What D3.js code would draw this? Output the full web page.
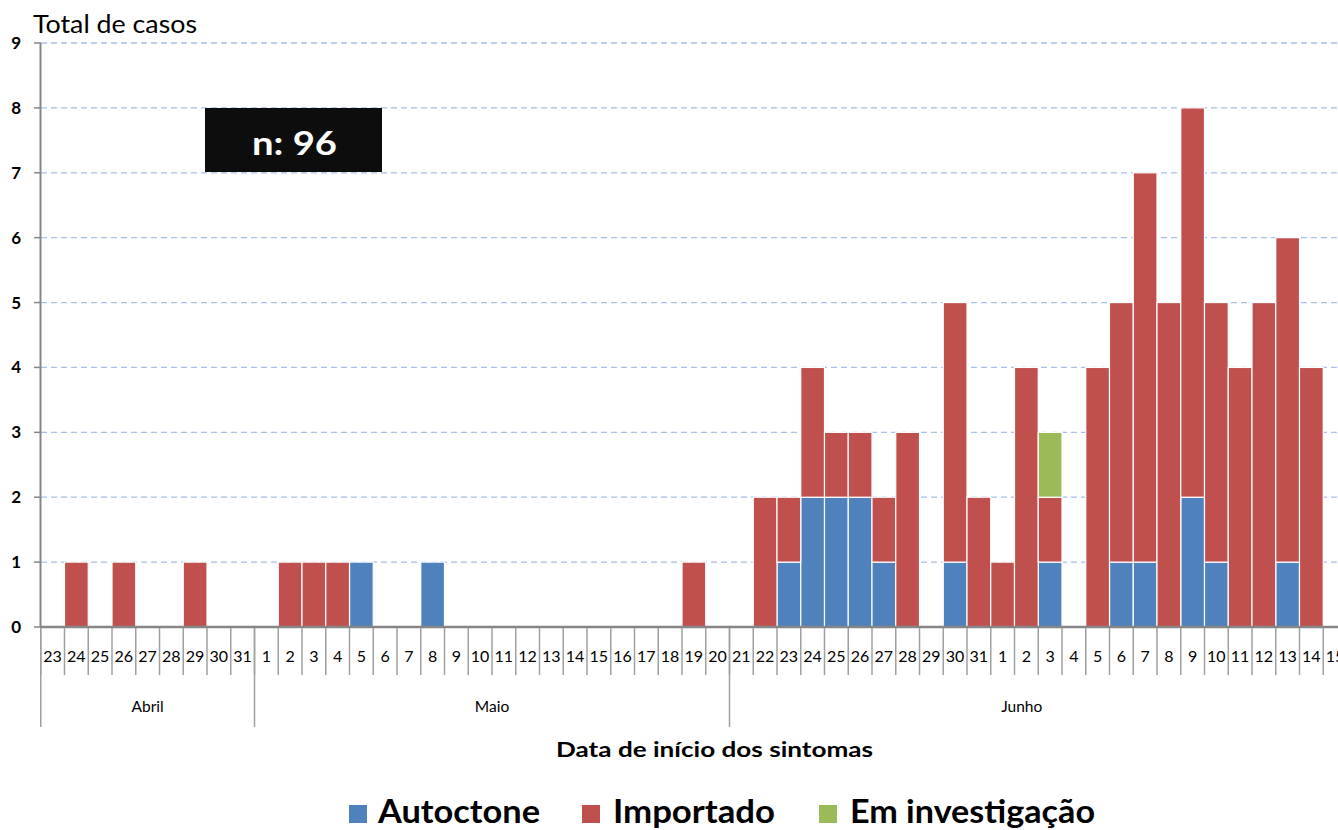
<!DOCTYPE html>
<html><head><meta charset="utf-8">
<script src="https://cdn.jsdelivr.net/npm/d3@7"></script>
<style>body{margin:0;background:#fff}svg{display:block}text{font-family:Lato,"Open Sans",sans-serif}</style>
</head><body><svg id="c" width="1338" height="830"></svg>
<script>
const dayLabels = ["23","24","25","26","27","28","29","30","31",
  "1","2","3","4","5","6","7","8","9","10","11","12","13","14","15","16","17","18","19","20",
  "21","22","23","24","25","26","27","28","29","30","31",
  "1","2","3","4","5","6","7","8","9","10","11","12","13","14","15"];
const groupNames = ["Abril","Maio","Junho"];
const groupSizes = [9,20,26];
const seriesNames = ["Autoctone","Importado","Em investigação"];
const seriesColors = ["#4f81bd","#c0504d","#9bbb59"];
const autoctone = [0,0,0,0,0,0,0,0,0,
  0,0,0,0,1,0,0,1,0,0,0,0,0,0,0,0,0,0,0,0,
  0,0,1,2,2,2,1,0,0,1,0,
  0,0,1,0,0,1,1,0,2,1,0,0,1,0,0];
const importado = [0,1,0,1,0,0,1,0,0,
  0,1,1,1,0,0,0,0,0,0,0,0,0,0,0,0,0,0,1,0,
  0,2,1,2,1,1,1,3,0,4,2,
  1,4,1,0,4,4,6,5,6,4,4,5,5,4,0];
const investigacao = [0,0,0,0,0,0,0,0,0,
  0,0,0,0,0,0,0,0,0,0,0,0,0,0,0,0,0,0,0,0,
  0,0,0,0,0,0,0,0,0,0,0,
  0,0,1,0,0,0,0,0,0,0,0,0,0,0,0];
const yTicks = [0,1,2,3,4,5,6,7,8,9];
const totalLabel = "n: 96";

const svg = d3.select("#c");
const x0 = 40.75, bw = 23.75;
const keys = dayLabels.map((d,i)=>i);
const x = d3.scaleBand().domain(keys).range([x0, x0 + bw*keys.length]).padding(0);
const y = d3.scaleLinear().domain([0,9]).range([627,43]);

// gridlines
svg.append("g").selectAll("line").data(yTicks.filter(t=>t>0)).join("line")
  .attr("x1",41).attr("x2",1338).attr("y1",d=>y(d)).attr("y2",d=>y(d))
  .attr("stroke","#a8bfe8").attr("stroke-width",1.3).attr("stroke-dasharray","6,4");

// stacked bars
const rows = keys.map(i=>({i, a:autoctone[i], b:importado[i], c:investigacao[i]}));
const stack = d3.stack().keys(["a","b","c"])(rows);
svg.append("g").selectAll("g").data(stack).join("g").attr("fill",(d,k)=>seriesColors[k])
  .selectAll("rect").data(d=>d.filter(p=>p[1]>p[0])).join("rect")
  .attr("x",p=>x(p.data.i)).attr("width",x.bandwidth())
  .attr("y",p=>y(p[1])).attr("height",p=>y(p[0])-y(p[1]))
  .attr("stroke","#fff").attr("stroke-width",1.2);

// y axis
const ya = svg.append("g");
ya.append("line").attr("x1",40.5).attr("x2",40.5).attr("y1",43).attr("y2",627).attr("stroke","#868686").attr("stroke-width",2);
ya.selectAll("line.t").data(yTicks).join("line").attr("class","t")
  .attr("x1",34).attr("x2",41).attr("y1",d=>y(d)).attr("y2",d=>y(d)).attr("stroke","#868686").attr("stroke-width",1.5);
ya.selectAll("text").data(yTicks).join("text")
  .attr("x",21).attr("y",d=>y(d)).attr("dy","0.35em").attr("text-anchor","end")
  .attr("font-weight","bold").attr("font-size",17).attr("fill","#000").text(d=>d);

// x axis
const xa = svg.append("g");
xa.append("line").attr("x1",40).attr("x2",1338).attr("y1",627).attr("y2",627).attr("stroke","#868686").attr("stroke-width",2.5);
xa.selectAll("line.t").data(keys.concat([keys.length])).join("line").attr("class","t")
  .attr("x1",i=>x0+bw*i).attr("x2",i=>x0+bw*i).attr("y1",628).attr("y2",675)
  .attr("stroke","#a0a0a0").attr("stroke-width",1.5);
xa.selectAll("text").data(keys).join("text")
  .attr("x",i=>x(i)+bw/2).attr("y",662).attr("text-anchor","middle")
  .attr("font-size",16).attr("fill","#000").text(i=>dayLabels[i]);
// group separators
let cum=[0]; groupSizes.forEach(s=>cum.push(cum[cum.length-1]+s));
xa.selectAll("line.g").data(cum).join("line").attr("class","g")
  .attr("x1",c=>x0+bw*c).attr("x2",c=>x0+bw*c).attr("y1",628).attr("y2",727)
  .attr("stroke","#a0a0a0").attr("stroke-width",1.5);
xa.selectAll("text.g").data(groupNames).join("text").attr("class","g")
  .attr("x",(g,k)=>{const a=x0+bw*cum[k], b=Math.min(x0+bw*cum[k+1],1314); return (a+b)/2;})
  .attr("y",712).attr("text-anchor","middle").attr("font-size",15.5).attr("fill","#000").text(g=>g);

// titles
svg.append("text").attr("x",33).attr("y",33).attr("font-size",25).attr("fill","#000")
  .attr("textLength",164).attr("lengthAdjust","spacingAndGlyphs").text("Total de casos");
svg.append("text").attr("x",556).attr("y",757).attr("font-size",21).attr("font-weight","bold").attr("fill","#000")
  .attr("textLength",317).attr("lengthAdjust","spacingAndGlyphs").text("Data de início dos sintomas");

// n box
svg.append("rect").attr("x",205).attr("y",108).attr("width",177).attr("height",64).attr("fill","#0d0d0d");
svg.append("text").attr("x",252).attr("y",155).attr("font-size",32).attr("font-weight","bold").attr("fill","#fff")
  .attr("textLength",85).attr("lengthAdjust","spacingAndGlyphs").text(totalLabel);

// legend
const legSq = [349,582,819], legTx = [378,613,850], legW = [162,162,245];
const lg = svg.append("g").selectAll("g").data(seriesNames).join("g");
lg.append("rect").attr("x",(d,k)=>legSq[k]).attr("y",805).attr("width",18).attr("height",18).attr("fill",(d,k)=>seriesColors[k]);
lg.append("text").attr("x",(d,k)=>legTx[k]).attr("y",823).attr("font-size",32).attr("font-weight","bold").attr("fill","#000")
  .attr("textLength",(d,k)=>legW[k]).attr("lengthAdjust","spacingAndGlyphs").text(d=>d);
</script></body></html>
